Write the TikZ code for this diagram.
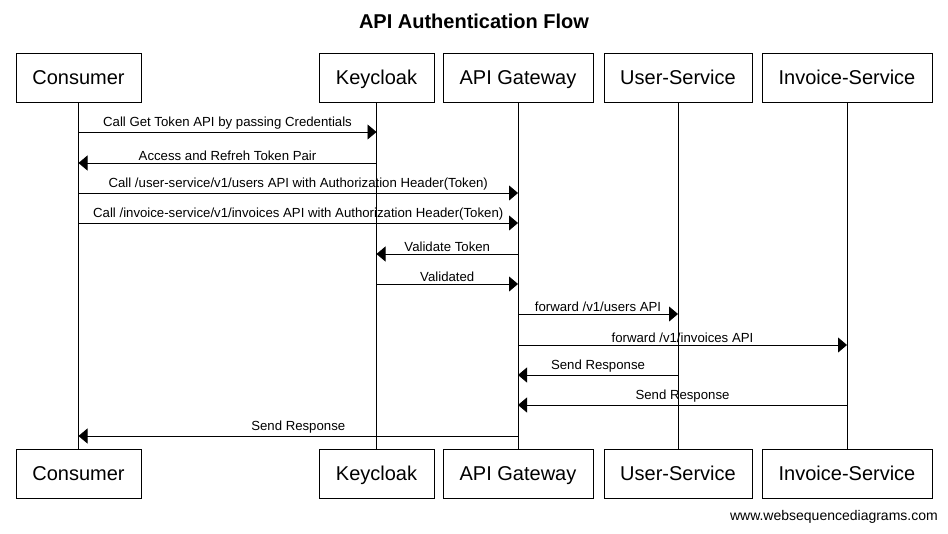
\documentclass[tikz,border=0pt]{standalone}
\usepackage{fontspec}
\setmainfont{Liberation Sans}
\usetikzlibrary{arrows.meta}
\begin{document}
\begin{tikzpicture}[x=1pt,y=-1pt,
  actor/.style={draw,line width=0.8pt,minimum height=49pt,inner sep=0pt,text height=15pt,text depth=1pt,font=\fontsize{20}{24}\selectfont},
  life/.style={line width=0.8pt},
  msg/.style={line width=0.8pt,-{Triangle[length=9pt,width=15pt]}},
  lbl/.style={font=\fontsize{13.2}{15}\selectfont,inner sep=0pt}]
\useasboundingbox (0,0) rectangle (948,533);
\node[font=\bfseries\fontsize{20}{24}\selectfont] (title) at (474,21) {API Authentication Flow};
% top actors
\node[actor,minimum width=125pt] (con) at (78.5,77.5) {Consumer};
\node[actor,minimum width=115pt] (key) at (376.5,77.5) {Keycloak};
\node[actor,minimum width=150pt] (gw) at (518,77.5) {API Gateway};
\node[actor,minimum width=148pt] (us) at (678,77.5) {User-Service};
\node[actor,minimum width=170pt] (is) at (847,77.5) {Invoice-Service};
% bottom actors
\node[actor,minimum width=125pt] (conb) at (78.5,473.5) {Consumer};
\node[actor,minimum width=115pt] (keyb) at (376.5,473.5) {Keycloak};
\node[actor,minimum width=150pt] (gwb) at (518,473.5) {API Gateway};
\node[actor,minimum width=148pt] (usb) at (678,473.5) {User-Service};
\node[actor,minimum width=170pt] (isb) at (847,473.5) {Invoice-Service};
% lifelines
\foreach \a in {con,key,gw,us,is}{\draw[life] (\a.south) -- (\a b.north);}
% messages
\newcommand{\msgline}[4]{%
  \draw[msg] (#1 |- 0,#3) -- node[lbl,above=2pt] {#4} (#2 |- 0,#3);}
\msgline{con}{key}{132}{Call Get Token API by passing Credentials}
\msgline{key}{con}{163}{Access and Refreh Token Pair}
\msgline{con}{gw}{193}{Call /user-service/v1/users API with Authorization Header(Token)}
\msgline{con}{gw}{223}{Call /invoice-service/v1/invoices API with Authorization Header(Token)}
\msgline{gw}{key}{254}{Validate Token}
\msgline{key}{gw}{284}{Validated}
\msgline{gw}{us}{314}{forward /v1/users API}
\msgline{gw}{is}{345}{forward /v1/invoices API}
\msgline{us}{gw}{375}{Send Response}
\msgline{is}{gw}{405}{Send Response}
\msgline{gw}{con}{436}{Send Response}
\node[font=\fontsize{14}{16}\selectfont,inner sep=0pt,anchor=east] (wm) at (938,517) {www.websequencediagrams.com};
\end{tikzpicture}
\end{document}
